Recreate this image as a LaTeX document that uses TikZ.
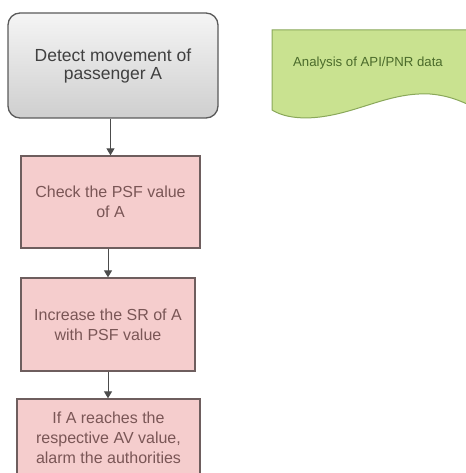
\documentclass[tikz,border=0pt]{standalone}
\usepackage{fontspec}
\setmainfont{Liberation Sans}
\usetikzlibrary{calc,positioning,arrows.meta}
\definecolor{edge}{HTML}{5A5A5A}
\definecolor{rose}{HTML}{F5CDCD}
\definecolor{roseline}{HTML}{6E5E5E}
\definecolor{rosetext}{HTML}{7A5656}
\definecolor{leaf}{HTML}{C9E290}
\definecolor{leafline}{HTML}{8AA85A}
\definecolor{leaftext}{HTML}{4B6B2B}

\tikzset{
  startbox/.style={draw=edge,line width=1.3pt,rounded corners=12pt,top color=gray!8,bottom color=gray!38,
    minimum width=210pt,minimum height=105pt,align=center,text=black!75,font=\fontsize{17.5}{18}\selectfont},
  stepbox/.style={draw=roseline,line width=1.3pt,fill=rose,align=center,text=rosetext,
    font=\fontsize{16}{20}\selectfont},
  flow/.style={draw=black!70,line width=1pt,-{Triangle[length=7pt,width=8pt]}},
}

\begin{document}
\begin{tikzpicture}[x=1pt,y=1pt]
\useasboundingbox (0,0) rectangle (465,-473);
\node[startbox] (detect) at (113,-65.5) {Detect movement of\\passenger A};
\node[stepbox,minimum width=179pt,minimum height=92pt] (check) at (110.5,-202) {Check the PSF value\\of A};
\node[stepbox,minimum width=174pt,minimum height=93pt] (increase) at (108,-324.5) {Increase the SR of A\\with PSF value};
\node[stepbox,minimum width=183pt,minimum height=100pt,text depth=22pt] (alarm) at (108.5,-449) {If A reaches the\\respective AV value,\\alarm the authorities};
% document shape on the right
\filldraw[fill=leaf,draw=leafline,line width=1pt] (272,-30) -- (480,-30) -- (480,-110)
  .. controls (470,-106) and (455,-96) .. (430,-94)
  .. controls (390,-92) and (360,-112) .. (320,-117)
  .. controls (295,-120) and (280,-115) .. (272,-110) -- cycle;
\node[text=leaftext,font=\fontsize{13.2}{15}\selectfont] (data) at (368,-63.5) {Analysis of API/PNR data};
\draw[flow] (check.north |- detect.south) -- (check.north);
\draw[flow] (check.south -| increase.north) -- (increase.north);
\draw[flow] (increase.south) -- (increase.south |- alarm.north);
\end{tikzpicture}
\end{document}
